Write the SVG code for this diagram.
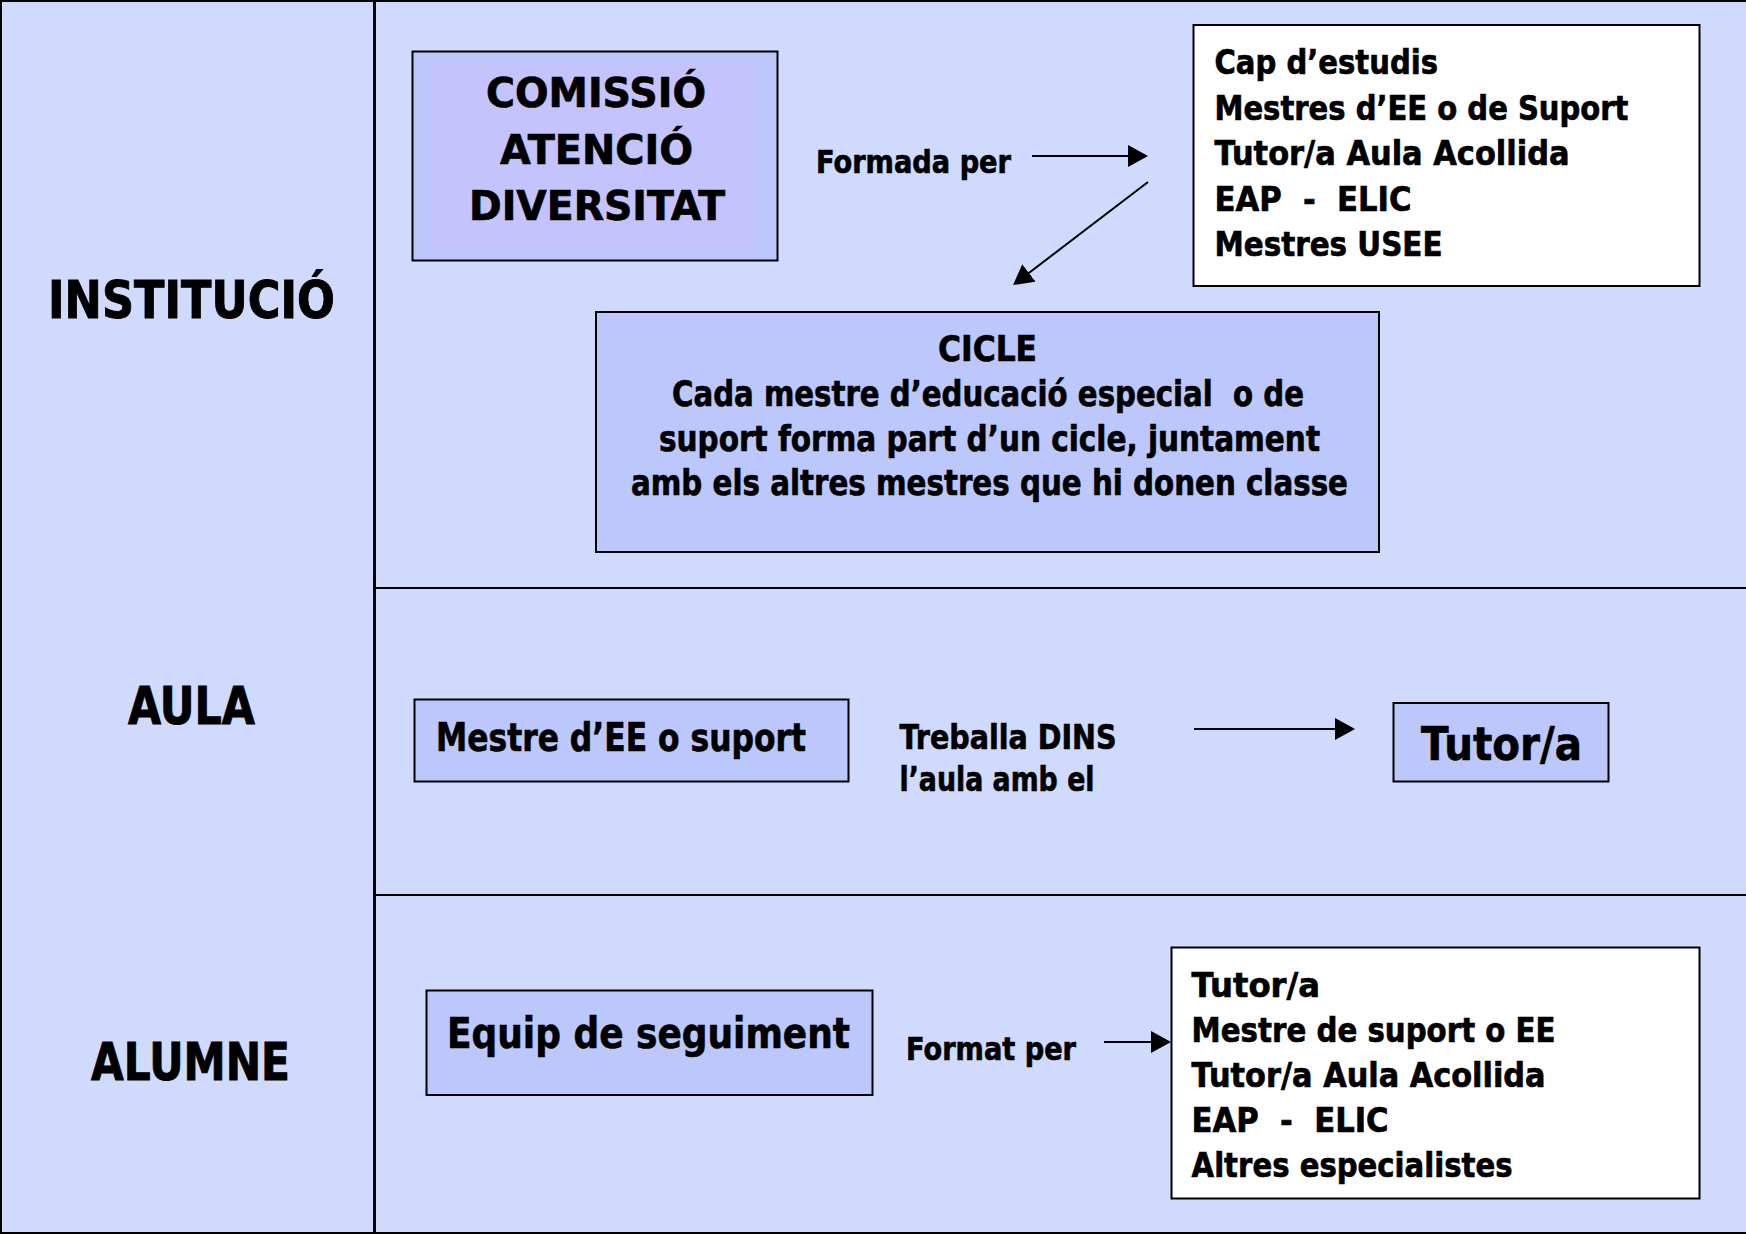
<svg xmlns="http://www.w3.org/2000/svg" width="1746" height="1234" viewBox="0 0 1746 1234">
<style>
text{font-family:"DejaVu Sans","Liberation Sans",sans-serif;font-weight:bold;fill:#000;stroke:#000;stroke-width:0.7;white-space:pre}
.frame{stroke:#000;fill:none}
.box{fill:#BCC8FC;stroke:#000;stroke-width:2}
.wbox{fill:#FFFFFF;stroke:#000;stroke-width:2}
.conn{stroke:#000;stroke-width:2;fill:none;marker-end:url(#ah)}
.big{font-size:52px;stroke-width:1}
.lst{font-size:34px}
</style>
<defs>
<marker id="ah" markerUnits="userSpaceOnUse" markerWidth="20" markerHeight="22" viewBox="0 0 20 22" refX="10" refY="11" orient="auto">
<path d="M0,0 L20,11 L0,22 Z" fill="#000"/>
</marker>
</defs>
<rect x="0" y="0" width="1746" height="1234" fill="#CFDAFD"/>
<g id="frame">
<line class="frame" x1="0" y1="1" x2="1746" y2="1" stroke-width="2"/>
<line class="frame" x1="1" y1="0" x2="1" y2="1234" stroke-width="2"/>
<line class="frame" x1="0" y1="1233" x2="1746" y2="1233" stroke-width="2"/>
<line class="frame" x1="374.5" y1="0" x2="374.5" y2="1234" stroke-width="3"/>
<line class="frame" x1="374" y1="588" x2="1746" y2="588" stroke-width="2"/>
<line class="frame" x1="374" y1="895" x2="1746" y2="895" stroke-width="2"/>
</g>
<g id="lbl-institucio"><text class="big" x="48" y="318" textLength="287" lengthAdjust="spacingAndGlyphs">INSTITUCIÓ</text></g>
<g id="lbl-aula"><text class="big" x="128" y="724" textLength="127" lengthAdjust="spacingAndGlyphs">AULA</text></g>
<g id="lbl-alumne"><text class="big" x="91" y="1080" textLength="199" lengthAdjust="spacingAndGlyphs">ALUMNE</text></g>
<g id="comissio">
<rect x="412.5" y="51.5" width="365" height="209" fill="#BCC8FC" stroke="#000" stroke-width="2"/>
<rect x="432" y="63" width="326" height="186" fill="#C5C3FD"/>
<text x="486" y="107" font-size="40" textLength="220" lengthAdjust="spacingAndGlyphs">COMISSIÓ</text>
<text x="500" y="163.5" font-size="40" textLength="193" lengthAdjust="spacingAndGlyphs">ATENCIÓ</text>
<text x="469" y="220" font-size="40" textLength="256" lengthAdjust="spacingAndGlyphs">DIVERSITAT</text>
</g>
<g id="lbl-formada"><text x="816" y="173" font-size="32" textLength="195" lengthAdjust="spacingAndGlyphs">Formada per</text></g>
<g id="membres-comissio">
<rect class="wbox" x="1193.5" y="25" width="506" height="261"/>
<text class="lst" x="1214.5" y="74" textLength="223.5" lengthAdjust="spacingAndGlyphs">Cap d’estudis</text>
<text class="lst" x="1214.5" y="119.5" textLength="414" lengthAdjust="spacingAndGlyphs">Mestres d’EE o de Suport</text>
<text class="lst" x="1214.5" y="165" textLength="355" lengthAdjust="spacingAndGlyphs">Tutor/a Aula Acollida</text>
<text class="lst" x="1214.5" y="210.5" textLength="197" lengthAdjust="spacingAndGlyphs" xml:space="preserve">EAP  -  ELIC</text>
<text class="lst" x="1214.5" y="256" textLength="228" lengthAdjust="spacingAndGlyphs">Mestres USEE</text>
</g>
<g id="cicle">
<rect class="box" x="596" y="312" width="783" height="240"/>
<text x="938" y="361" font-size="35" textLength="99" lengthAdjust="spacingAndGlyphs">CICLE</text>
<text x="672" y="405.5" font-size="35" textLength="632" lengthAdjust="spacingAndGlyphs" xml:space="preserve">Cada mestre d’educació especial  o de</text>
<text x="659" y="450.5" font-size="35" textLength="661" lengthAdjust="spacingAndGlyphs">suport forma part d’un cicle, juntament</text>
<text x="631" y="495" font-size="35" textLength="717" lengthAdjust="spacingAndGlyphs">amb els altres mestres que hi donen classe</text>
</g>
<g id="mestre-ee">
<rect class="box" x="414.5" y="699.5" width="434" height="82"/>
<text x="436" y="751" font-size="39" textLength="370" lengthAdjust="spacingAndGlyphs">Mestre d’EE o suport</text>
</g>
<g id="lbl-treballa">
<text x="899.5" y="749" font-size="34" textLength="217" lengthAdjust="spacingAndGlyphs">Treballa DINS</text>
<text x="899.5" y="790.5" font-size="34" textLength="195" lengthAdjust="spacingAndGlyphs">l’aula amb el</text>
</g>
<g id="tutor">
<rect class="box" x="1393.5" y="703" width="215" height="78.5"/>
<text x="1421" y="759.5" font-size="47" textLength="161" lengthAdjust="spacingAndGlyphs">Tutor/a</text>
</g>
<g id="equip">
<rect class="box" x="426.5" y="990.5" width="446" height="104.5"/>
<text x="447" y="1047.5" font-size="42" textLength="403" lengthAdjust="spacingAndGlyphs">Equip de seguiment</text>
</g>
<g id="lbl-format"><text x="906" y="1060" font-size="32" textLength="170" lengthAdjust="spacingAndGlyphs">Format per</text></g>
<g id="membres-equip">
<rect class="wbox" x="1171.5" y="947.5" width="528" height="251"/>
<text class="lst" x="1191.6" y="996.7" textLength="128.5" lengthAdjust="spacingAndGlyphs">Tutor/a</text>
<text class="lst" x="1191.6" y="1041.5" textLength="364" lengthAdjust="spacingAndGlyphs">Mestre de suport o EE</text>
<text class="lst" x="1191.6" y="1086.7" textLength="354" lengthAdjust="spacingAndGlyphs">Tutor/a Aula Acollida</text>
<text class="lst" x="1191.6" y="1132" textLength="197" lengthAdjust="spacingAndGlyphs" xml:space="preserve">EAP  -  ELIC</text>
<text class="lst" x="1191.6" y="1176.5" textLength="321" lengthAdjust="spacingAndGlyphs">Altres especialistes</text>
</g>
<g id="connectors">
<line class="conn" x1="1032" y1="156" x2="1138" y2="156"/>
<line class="conn" x1="1148" y1="182" x2="1021" y2="279"/>
<line class="conn" x1="1194" y1="729" x2="1345" y2="729"/>
<line class="conn" x1="1104" y1="1042" x2="1161" y2="1042"/>
</g>
</svg>
